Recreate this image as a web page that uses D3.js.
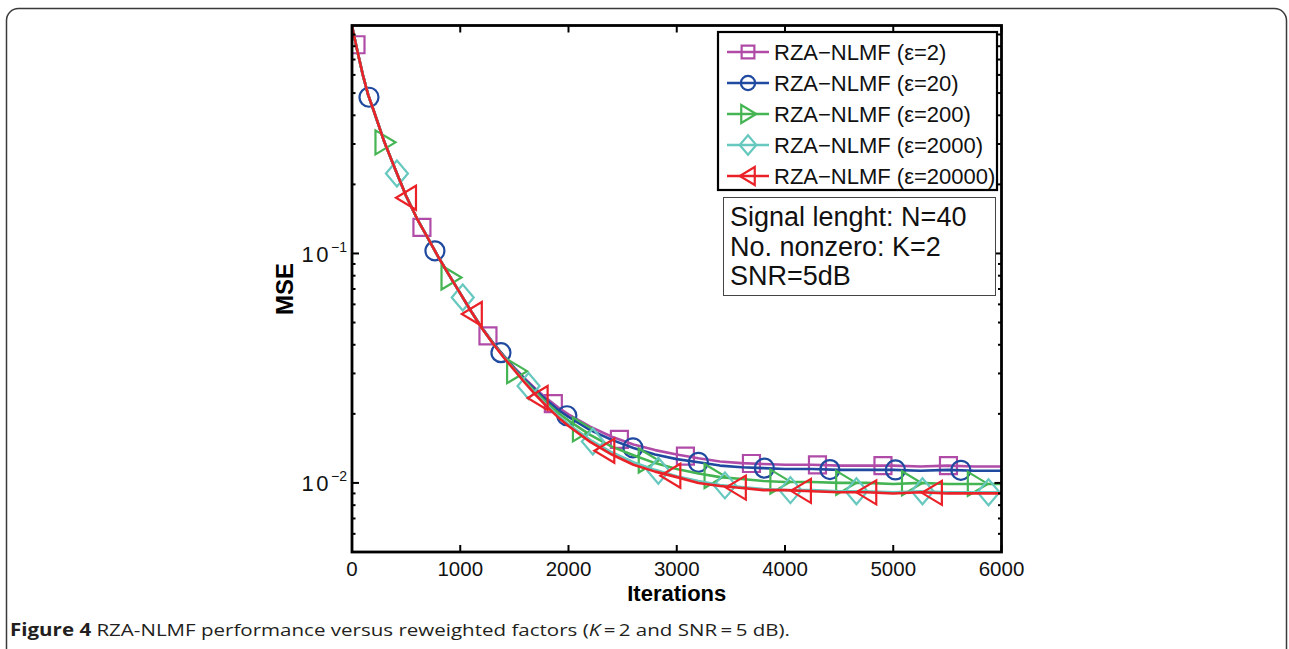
<!DOCTYPE html>
<html>
<head>
<meta charset="utf-8">
<script src="https://cdn.jsdelivr.net/npm/d3@7"></script>
<style>
  body { margin: 0; background: #fff; }
  svg { display: block; }
</style>
</head>
<body>
<svg id="chart" width="1289" height="649"></svg>
<script>
// iteration grid the curves are read at
const iterations = [0, 50, 100, 150, 200, 300, 400, 500, 600, 700, 800, 900, 1000, 1100, 1200, 1300, 1400, 1500,
  1600, 1700, 1800, 1900, 2000, 2200, 2400, 2600, 2800, 3000, 3200, 3400, 3600, 3800, 4000, 4250, 4500, 4750,
  5000, 5250, 5500, 5750, 6000];

// MSE, one array per reweighting factor
const mseEps2 = [0.98, 0.76, 0.60, 0.49, 0.42, 0.305, 0.232, 0.178, 0.142, 0.117, 0.096, 0.080, 0.067, 0.056, 0.0475, 0.0410, 0.0360, 0.0318,
  0.0284, 0.0256, 0.0233, 0.0214, 0.0199, 0.0176, 0.0159, 0.0147, 0.0139, 0.0133, 0.0128, 0.0124, 0.0122, 0.0121, 0.0120, 0.0120, 0.0119, 0.0119,
  0.0119, 0.0118, 0.0119, 0.0118, 0.0118];
const mseEps20 = [0.98, 0.76, 0.60, 0.49, 0.42, 0.305, 0.232, 0.178, 0.142, 0.117, 0.096, 0.080, 0.067, 0.056, 0.0474, 0.0409, 0.0358, 0.0316,
  0.0281, 0.0253, 0.0229, 0.0209, 0.0194, 0.0170, 0.0154, 0.0142, 0.0133, 0.0127, 0.0123, 0.0119, 0.0117, 0.0116, 0.0115, 0.0115, 0.0114, 0.0114,
  0.0114, 0.0113, 0.0114, 0.0113, 0.0113];
const mseEps200 = [0.98, 0.76, 0.60, 0.49, 0.42, 0.305, 0.232, 0.178, 0.142, 0.117, 0.096, 0.080, 0.067, 0.056, 0.0473, 0.0407, 0.0356, 0.0313,
  0.0277, 0.0248, 0.0223, 0.0203, 0.0187, 0.0162, 0.0144, 0.0132, 0.0122, 0.0115, 0.0110, 0.0106, 0.0104, 0.0102, 0.0101, 0.0101, 0.0100, 0.0100,
  0.0099, 0.0100, 0.0099, 0.0099, 0.0099];
const mseEps2000 = [0.98, 0.76, 0.60, 0.49, 0.42, 0.305, 0.232, 0.178, 0.142, 0.117, 0.096, 0.080, 0.067, 0.056, 0.0472, 0.0406, 0.0354, 0.0311,
  0.0274, 0.0244, 0.0218, 0.0197, 0.0180, 0.0154, 0.0136, 0.0123, 0.0114, 0.0107, 0.0102, 0.0098, 0.0096, 0.0094, 0.0093, 0.0093, 0.0092, 0.0092,
  0.0091, 0.0092, 0.0091, 0.0091, 0.0091];
const mseEps20000 = [0.98, 0.76, 0.60, 0.49, 0.42, 0.305, 0.232, 0.178, 0.142, 0.117, 0.096, 0.080, 0.067, 0.056, 0.0472, 0.0406, 0.0353, 0.0310,
  0.0272, 0.0241, 0.0215, 0.0194, 0.0177, 0.0151, 0.0133, 0.0120, 0.0112, 0.0106, 0.0100, 0.0097, 0.0095, 0.0093, 0.0093, 0.0092, 0.0091, 0.0091,
  0.0090, 0.0091, 0.0090, 0.0090, 0.0090];

// iterations where each curve carries a marker
const markersEps2 = [37, 646, 1256, 1860, 2470, 3080, 3690, 4300, 4905, 5510];
const markersEps20 = [157, 766, 1376, 1985, 2595, 3200, 3810, 4415, 5020, 5625];
const markersEps200 = [300, 910, 1516, 2124, 2732, 3340, 3948, 4556, 5164, 5772];
const markersEps2000 = [415, 1023, 1631, 2225, 2830, 3445, 4050, 4660, 5270, 5880];
const markersEps20000 = [508, 1116, 1724, 2340, 2950, 3555, 4156, 4760, 5366];

const seriesLabels = ["RZA\u2212NLMF (\u03b5=2)", "RZA\u2212NLMF (\u03b5=20)", "RZA\u2212NLMF (\u03b5=200)",
  "RZA\u2212NLMF (\u03b5=2000)", "RZA\u2212NLMF (\u03b5=20000)"];
const seriesColors = ["#b04ca8", "#1f4aa0", "#45b452", "#66c8be", "#ea2228"];
const seriesShapes = ["square", "circle", "right", "diamond", "left"];

const xTicks = [0, 1000, 2000, 3000, 4000, 5000, 6000];
const yTicks = [0.01, 0.1];
const yTickExp = ["\u22122", "\u22121"];

const infoLines = ["Signal lenght: N=40", "No. nonzero: K=2", "SNR=5dB"];

const series = [mseEps2, mseEps20, mseEps200, mseEps2000, mseEps20000].map((vals, i) => ({
  label: seriesLabels[i],
  color: seriesColors[i],
  shape: seriesShapes[i],
  values: vals.map((v, j) => ({ it: iterations[j], mse: v })),
  marks: [markersEps2, markersEps20, markersEps200, markersEps2000, markersEps20000][i],
}));

const svg = d3.select("#chart");
svg.append("rect").attr("width", 1289).attr("height", 649).attr("fill", "#fff");

// outer figure frame
svg.append("rect")
  .attr("x", 6.5).attr("y", 8.5)
  .attr("width", 1280).attr("height", 652)
  .attr("rx", 12)
  .attr("fill", "none")
  .attr("stroke", "#3a3a3a")
  .attr("stroke-width", 1.5);

var plot = { left: 352, right: 1001.5, top: 25.5, bottom: 552 };
var x = d3.scaleLinear().domain([0, 6000]).range([plot.left, plot.right]);
var y = d3.scaleLog().domain([0.005, 0.985]).range([plot.bottom, plot.top]);

svg.append("clipPath").attr("id", "plotClip")
  .append("rect")
  .attr("x", plot.left).attr("y", plot.top)
  .attr("width", plot.right - plot.left).attr("height", plot.bottom - plot.top);

// marker glyphs
function markerPath(shape, s) {
  var p = d3.path();
  if (shape === "square") {
    p.rect(-8.5 * s, -8.5 * s, 17 * s, 17 * s);
  } else if (shape === "circle") {
    p.arc(0, 0, 9.5 * s, 0, 2 * Math.PI);
  } else if (shape === "right") {
    p.moveTo(-9 * s, -12 * s); p.lineTo(11 * s, 0); p.lineTo(-9 * s, 12 * s); p.closePath();
  } else if (shape === "left") {
    p.moveTo(9 * s, -12 * s); p.lineTo(-11 * s, 0); p.lineTo(9 * s, 12 * s); p.closePath();
  } else if (shape === "diamond") {
    p.moveTo(0, -13 * s); p.lineTo(11 * s, 0); p.lineTo(0, 13 * s); p.lineTo(-11 * s, 0); p.closePath();
  }
  return p.toString();
}

// position of a marker on the drawn polyline
function markerY(values, it) {
  var i = d3.bisector((d) => d.it).right(values, it);
  var a = values[Math.max(0, i - 1)], b = values[Math.min(values.length - 1, i)];
  if (a === b) return y(a.mse);
  var t = (it - a.it) / (b.it - a.it);
  return y(a.mse) + t * (y(b.mse) - y(a.mse));
}

var line = d3.line().x((d) => x(d.it)).y((d) => y(d.mse));

var curves = svg.append("g").attr("clip-path", "url(#plotClip)");

series.forEach(function (s) {
  var g = curves.append("g");
  g.append("path")
    .datum(s.values)
    .attr("d", line)
    .attr("fill", "none")
    .attr("stroke", s.color)
    .attr("stroke-width", 2.6)
    .attr("stroke-linejoin", "round");
  g.selectAll(".mk")
    .data(s.marks)
    .join("path")
    .attr("class", "mk")
    .attr("transform", (it) => `translate(${x(it)},${markerY(s.values, it)})`)
    .attr("d", markerPath(s.shape, 1))
    .attr("fill", "none")
    .attr("stroke", s.color)
    .attr("stroke-width", 2.2);
});

// axes box and inward ticks (MATLAB style)
var axisG = svg.append("g").attr("stroke", "#000");
var minorTicks = y.ticks().filter((v) => yTicks.indexOf(v) < 0 && v > 0.005 && v < 0.985);

xTicks.forEach(function (v) {
  axisG.append("line").attr("x1", x(v)).attr("x2", x(v)).attr("y1", plot.bottom).attr("y2", plot.bottom - 7).attr("stroke-width", 2);
  axisG.append("line").attr("x1", x(v)).attr("x2", x(v)).attr("y1", plot.top).attr("y2", plot.top + 7).attr("stroke-width", 2);
});
yTicks.forEach(function (v) {
  axisG.append("line").attr("x1", plot.left).attr("x2", plot.left + 7).attr("y1", y(v)).attr("y2", y(v)).attr("stroke-width", 2);
  axisG.append("line").attr("x1", plot.right).attr("x2", plot.right - 7).attr("y1", y(v)).attr("y2", y(v)).attr("stroke-width", 2);
});
minorTicks.forEach(function (v) {
  axisG.append("line").attr("x1", plot.left).attr("x2", plot.left + 3.5).attr("y1", y(v)).attr("y2", y(v)).attr("stroke-width", 2);
  axisG.append("line").attr("x1", plot.right).attr("x2", plot.right - 3.5).attr("y1", y(v)).attr("y2", y(v)).attr("stroke-width", 2);
});

axisG.append("rect")
  .attr("x", plot.left).attr("y", plot.top)
  .attr("width", plot.right - plot.left).attr("height", plot.bottom - plot.top)
  .attr("fill", "none")
  .attr("stroke-width", 2.8);

var font = "'Liberation Sans', Arial, Helvetica, sans-serif";

svg.append("g")
  .selectAll("text")
  .data(xTicks)
  .join("text")
  .attr("x", (d) => x(d))
  .attr("y", 576)
  .attr("text-anchor", "middle")
  .attr("font-family", font)
  .attr("font-size", 20.5)
  .attr("fill", "#111")
  .text((d) => d);

var yLab = svg.append("g")
  .selectAll("text")
  .data(yTicks)
  .join("text")
  .attr("x", 347)
  .attr("y", (d) => y(d) + 8.5)
  .attr("text-anchor", "end")
  .attr("font-family", font)
  .attr("font-size", 22)
  .attr("fill", "#111");
yLab.append("tspan").attr("letter-spacing", 2.5).text("10");
yLab.append("tspan")
  .attr("font-size", 14)
  .attr("dy", -10)
  .text((d, i) => yTickExp[i]);

svg.append("text")
  .attr("x", x(3000))
  .attr("y", 601)
  .attr("text-anchor", "middle")
  .attr("font-family", font)
  .attr("font-weight", "bold")
  .attr("font-size", 22)
  .text("Iterations");

svg.append("text")
  .attr("transform", "translate(293,289) rotate(-90)")
  .attr("text-anchor", "middle")
  .attr("font-family", font)
  .attr("font-weight", "bold")
  .attr("font-size", 24)
  .text("MSE");

// legend
var legend = svg.append("g");
legend.append("rect")
  .attr("x", 718).attr("y", 32)
  .attr("width", 279).attr("height", 158)
  .attr("fill", "#fff")
  .attr("stroke", "#000")
  .attr("stroke-width", 2.2);

var rows = legend.selectAll(".row")
  .data(series)
  .join("g")
  .attr("class", "row")
  .attr("transform", (d, i) => `translate(0,${52 + i * 31})`);
rows.append("line")
  .attr("x1", 727).attr("x2", 769)
  .attr("stroke", (d) => d.color)
  .attr("stroke-width", 2.6);
rows.append("path")
  .attr("transform", "translate(748,0)")
  .attr("d", (d) => markerPath(d.shape, 0.75))
  .attr("fill", "none")
  .attr("stroke", (d) => d.color)
  .attr("stroke-width", 2.2);
rows.append("text")
  .attr("x", 774)
  .attr("y", 8)
  .attr("font-family", font)
  .attr("font-size", 22)
  .attr("fill", "#111")
  .text((d) => d.label);

// annotation box
var info = svg.append("g");
info.append("rect")
  .attr("x", 723.5).attr("y", 197.5)
  .attr("width", 272).attr("height", 98)
  .attr("fill", "#fff")
  .attr("stroke", "#444")
  .attr("stroke-width", 1);
info.selectAll("text")
  .data(infoLines)
  .join("text")
  .attr("x", 730)
  .attr("y", (d, i) => 226 + i * 29.5)
  .attr("font-family", font)
  .attr("font-size", 27)
  .attr("fill", "#111")
  .text((d) => d);

// caption
var cap = svg.append("text")
  .attr("x", 10)
  .attr("y", 636)
  .attr("font-family", "'Open Sans', 'Noto Sans', sans-serif")
  .attr("font-size", 17)
  .attr("fill", "#231f20")
  .attr("textLength", 780)
  .attr("lengthAdjust", "spacingAndGlyphs");
cap.append("tspan").attr("font-weight", "bold").text("Figure 4");
cap.append("tspan").text(" RZA-NLMF performance versus reweighted factors (");
cap.append("tspan").attr("font-style", "italic").text("K");
cap.append("tspan").text("\u2009=\u20092 and SNR\u2009=\u20095 dB).");
</script>
</body>
</html>
